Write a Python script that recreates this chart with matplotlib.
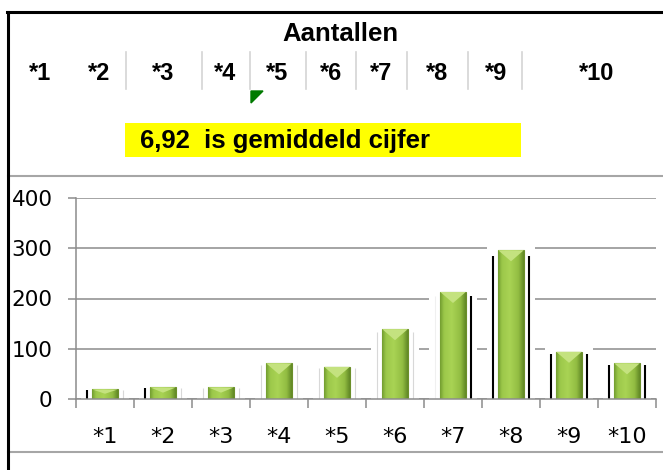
import numpy as np
import matplotlib.pyplot as plt
from matplotlib.colors import LinearSegmentedColormap
from matplotlib.lines import Line2D
from matplotlib.patches import Rectangle, Polygon

# chart data
CATS = ["*1", "*2", "*3", "*4", "*5", "*6", "*7", "*8", "*9", "*10"]
COUNTS = [19, 23, 23, 71, 64, 139, 213, 296, 94, 71]
MEAN_TEXT = "6,92"
TITLE = "Aantallen"
Y_TICKS = [0, 100, 200, 300, 400]

# header layout (pixel positions of the spreadsheet cells)
HEADER_X = [40, 99, 163, 225, 277, 331, 381, 437, 496, 597]
SEP_X = [126, 202, 250, 306, 356, 407, 468, 522]
# colour of the thin shadow lines left / right of each bar
LEFT_COLS = ["k", "k", "#d8d8d8", "#d8d8d8", "#d8d8d8", "#d8d8d8", "#f0f0f0", "k", "k", "k"]
RIGHT_COLS = ["#d8d8d8", "#d8d8d8", "#d8d8d8", "#d8d8d8", "#d8d8d8", "#d8d8d8", "k", "k", "k", "k"]

W, H = 663, 470
ARIAL = "Liberation Sans"
GRID = "#8c8c8c"


def fx(px):
    return px / W


def fy(py):
    return 1 - py / H


fig = plt.figure(figsize=(W / 100, H / 100), dpi=100)

# --- spreadsheet header part ---
fig.text(fx(340), fy(34), TITLE, ha="center", va="center", fontsize=18.5,
         fontweight="bold", family=ARIAL)
for lab, x in zip(CATS, HEADER_X):
    fig.text(fx(x), fy(74), lab, ha="center", va="center", fontsize=17,
             fontweight="bold", family=ARIAL)
for x in SEP_X:
    fig.add_artist(Line2D([fx(x), fx(x)], [fy(52), fy(89)], color="#d4d4d4", lw=1.2))
fig.add_artist(Polygon([(fx(251), fy(91)), (fx(263), fy(91)), (fx(251), fy(103))],
                       closed=True, color="#007a00", transform=fig.transFigure))
fig.add_artist(Rectangle((fx(125), fy(157)), fx(521) - fx(125), fy(123) - fy(157),
                         transform=fig.transFigure, color="#ffff00", lw=0))
fig.text(fx(140), fy(141), f"{MEAN_TEXT}  is gemiddeld cijfer", ha="left", va="center",
         fontsize=18.5, fontweight="bold", family=ARIAL)

# frame lines
for y in (176, 452):
    fig.add_artist(Line2D([fx(8), 1], [fy(y), fy(y)], color="#a6a6a6", lw=1.5))
fig.add_artist(Line2D([fx(7.5), fx(7.5)], [fy(11.5), 0], color="k", lw=2.2))
fig.add_artist(Line2D([fx(6.5), 1], [fy(11.5), fy(11.5)], color="k", lw=2.2))

# --- bar chart ---
ax = fig.add_axes([fx(76), fy(399), fx(656) - fx(76), (399 - 198) / H])
x = np.arange(len(CATS)) + 0.5
vals = np.array(COUNTS, dtype=float)

# white halo behind the bars (cuts the gridlines like in the original)
ax.bar(x, vals + 8, width=0.84, color="white", zorder=1)
lw_l = [1.5 if c == "k" else 0.8 for c in LEFT_COLS]
lw_r = [1.5 if c == "k" else 0.8 for c in RIGHT_COLS]
ax.vlines(x - 0.31, 0, vals * 0.96, colors=LEFT_COLS, linewidths=lw_l, zorder=1.5)
ax.vlines(x + 0.31, 0, vals * 0.96, colors=RIGHT_COLS, linewidths=lw_r, zorder=1.5)

bars = ax.bar(x, vals, width=0.44, color="#96c142", edgecolor="#6b8f2a", lw=0.8, zorder=2)
cmap = LinearSegmentedColormap.from_list(
    "bar", [(0, "#729d30"), (0.15, "#9cc84a"), (0.45, "#a9d354"), (0.8, "#92bd42"), (1, "#618826")])
grad = np.linspace(0, 1, 64)[None, :]
for b, v in zip(bars, vals):
    x0, x1 = b.get_x(), b.get_x() + b.get_width()
    im = ax.imshow(grad, extent=[x0, x1, 0, v], cmap=cmap, aspect="auto",
                   interpolation="bicubic", zorder=2.1)
    im.set_clip_path(b)
    d = min(22, 0.45 * v)
    ax.add_patch(Polygon([(x0, v), (x1, v), ((x0 + x1) / 2, v - d)], closed=True,
                         color="#c4e27f", lw=0, zorder=2.2))

ax.set_xlim(0, len(CATS))
ax.set_ylim(0, 400)
ax.set_axisbelow(True)
ax.yaxis.grid(True, color=GRID, lw=1.1, zorder=0)
for s in ("top", "right"):
    ax.spines[s].set_visible(False)
for s in ("left", "bottom"):
    ax.spines[s].set_color(GRID)
    ax.spines[s].set_linewidth(1.1)

ax.set_xticks(np.arange(len(CATS) + 1))
ax.set_xticklabels([])
ax.set_xticks(x, minor=True)
ax.set_xticklabels(CATS, minor=True, family="DejaVu Sans", fontsize=16)
ax.tick_params(axis="x", which="major", length=6.5, width=1.1, color=GRID)
ax.tick_params(axis="x", which="minor", length=0, pad=20)
ax.set_yticks(Y_TICKS)
ax.set_yticklabels([str(t) for t in Y_TICKS], family="DejaVu Sans", fontsize=15.5)
ax.tick_params(axis="y", length=5.8, width=1.1, color=GRID, pad=11)

fig.savefig("out.png", dpi=100)
